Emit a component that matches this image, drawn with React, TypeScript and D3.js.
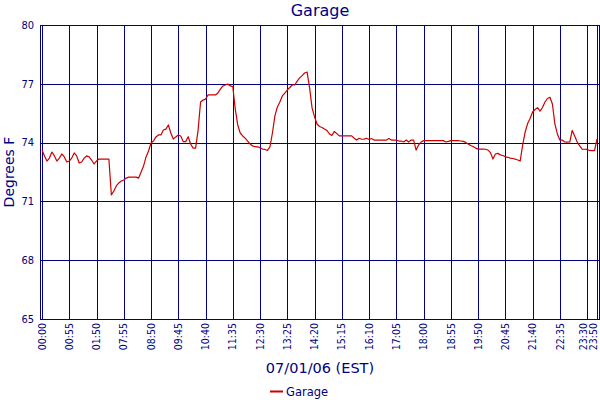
import React from "react";
import * as d3 from "d3";

const title = "Garage";
const seriesName = "Garage";
const xTitle = "07/01/06 (EST)";
const yTitle = "Degrees F";

const yTicks = [65, 68, 71, 74, 77, 80];
const tickLabels = ["00:00","00:55","01:50","07:55","08:50","09:45","10:40","11:35","12:30","13:25","14:20","15:15","16:10","17:05","18:00","18:55","19:50","20:45","21:40","22:35","23:30","23:50"];
const tickIndices = [0, 11, 22, 33, 44, 55, 66, 77, 88, 99, 110, 121, 132, 143, 154, 165, 176, 187, 198, 209, 220, 224];

const garage = [
  73.62, 73.32, 73.06, 73.21, 73.52, 73.32, 73.06, 73.21, 73.42, 73.27,
  73.01, 73.06, 73.21, 73.47, 73.32, 72.96, 73.01, 73.21, 73.32, 73.27,
  73.11, 72.91, 73.06, 73.16, 73.16, 73.16, 73.16, 73.16, 71.33, 71.53,
  71.79, 71.94, 72.04, 72.09, 72.19, 72.24, 72.24, 72.24, 72.24, 72.19,
  72.50, 72.81, 73.27, 73.57, 73.98, 74.08, 74.29, 74.39, 74.39, 74.64,
  74.69, 74.90, 74.49, 74.18, 74.29, 74.39, 74.34, 74.05, 74.05, 74.30,
  73.93, 73.72, 73.72, 74.64, 76.07, 76.17, 76.22, 76.43, 76.43, 76.43,
  76.43, 76.53, 76.73, 76.89, 76.94, 76.99, 76.89, 76.86, 75.71, 74.90,
  74.49, 74.34, 74.23, 74.08, 73.93, 73.83, 73.79, 73.78, 73.74, 73.67,
  73.65, 73.60, 73.78, 74.49, 75.36, 75.82, 76.07, 76.38, 76.53, 76.68,
  76.81, 76.94, 76.94, 77.14, 77.30, 77.42, 77.55, 77.60, 76.79, 75.77,
  75.31, 74.95, 74.82, 74.77, 74.69, 74.62, 74.44, 74.36, 74.57, 74.46,
  74.34, 74.34, 74.34, 74.34, 74.34, 74.34, 74.22, 74.13, 74.22, 74.17,
  74.18, 74.22, 74.16, 74.21, 74.13, 74.13, 74.13, 74.13, 74.13, 74.13,
  74.21, 74.13, 74.13, 74.13, 74.08, 74.08, 74.03, 74.13, 74.03, 74.13,
  74.13, 73.62, 73.88, 74.03, 74.10, 74.10, 74.10, 74.10, 74.10, 74.10,
  74.10, 74.10, 74.10, 74.03, 74.06, 74.10, 74.10, 74.10, 74.10, 74.08,
  74.06, 74.01, 73.93, 73.85, 73.80, 73.72, 73.67, 73.67, 73.67, 73.66,
  73.62, 73.49, 73.16, 73.42, 73.45, 73.37, 73.34, 73.28, 73.25, 73.21,
  73.19, 73.16, 73.11, 73.06, 73.88, 74.54, 74.97, 75.23, 75.56, 75.69,
  75.78, 75.61, 75.79, 76.07, 76.25, 76.31, 75.97, 74.95, 74.44, 74.13,
  74.13, 74.03, 74.02, 74.03, 74.62, 74.34, 74.03, 73.83, 73.67, 73.66,
  73.65, 73.60, 73.59, 73.59, 74.18
];

const NAVY = "#000080";
const RED = "#cc0000";
const FONT = "'DejaVu Sans', Verdana, sans-serif";
const COND = "'DejaVu Sans Condensed', 'DejaVu Sans', sans-serif";

export default function App() {
  const W = 600, H = 400;
  const x = d3.scaleLinear().domain([0, garage.length - 1]).range([42, 597]);
  const y = d3.scaleLinear().domain([65, 80]).range([319, 25]);
  const line = d3.line<number>().x((_, i) => x(i)).y((d) => y(d));

  // label positions: keep inside the picture and avoid overlap at the right end
  const labelX = tickIndices.map((ti) => x(ti));
  labelX[labelX.length - 1] = Math.min(labelX[labelX.length - 1], 593);
  for (let k = labelX.length - 1; k > 0; k--) {
    if (labelX[k - 1] > labelX[k] - 9.5) labelX[k - 1] = labelX[k] - 9.5;
  }

  return (
    <svg width={W} height={H} style={{ position: "absolute", left: 0, top: 0, background: "#fff" }}>
      <rect x={0} y={0} width={W} height={H} fill="#fff" />
      <g shapeRendering="crispEdges" stroke={NAVY} strokeWidth={1} fill="none">
        <line x1={40.5} x2={40.5} y1={25} y2={319.5} />
        <line x1={599.5} x2={599.5} y1={25} y2={319.5} />
        {yTicks.map((t) => (
          <line key={"h" + t} x1={40.5} x2={599.5} y1={Math.round(y(t)) + 0.5} y2={Math.round(y(t)) + 0.5} />
        ))}
        {tickIndices.map((ti) => (
          <line key={"v" + ti} x1={Math.round(x(ti)) + 0.5} x2={Math.round(x(ti)) + 0.5} y1={25} y2={319.5} />
        ))}
      </g>
      <path d={line(garage) || ""} fill="none" stroke={RED} strokeWidth={1.2} strokeLinejoin="round" />
      {yTicks.map((t) => (
        <text key={"yl" + t} x={34} y={y(t)} dy="0.35em" textAnchor="end" fontFamily={COND} fontSize={11} fill={NAVY}>
          {t}
        </text>
      ))}
      {tickIndices.map((ti, k) => (
        <text
          key={"xl" + ti}
          transform={`translate(${labelX[k]},${323}) rotate(-90)`}
          textAnchor="end"
          dy="0.35em"
          fontFamily={COND}
          fontSize={10.5}
          fill={NAVY}
        >
          {tickLabels[k]}
        </text>
      ))}
      <text x={320} y={16} textAnchor="middle" fontFamily={FONT} fontSize={16} fill={NAVY}>
        {title}
      </text>
      <text x={320} y={373} textAnchor="middle" fontFamily={FONT} fontSize={14.5} fill={NAVY}>
        {xTitle}
      </text>
      <text transform={`translate(14,172) rotate(-90)`} textAnchor="middle" fontFamily={FONT} fontSize={14} fill={NAVY}>
        {yTitle}
      </text>
      <line x1={270} x2={283} y1={391.5} y2={391.5} stroke={RED} strokeWidth={2} />
      <text x={286} y={395.5} fontFamily={FONT} fontSize={11.5} fill={NAVY}>
        {seriesName}
      </text>
    </svg>
  );
}
